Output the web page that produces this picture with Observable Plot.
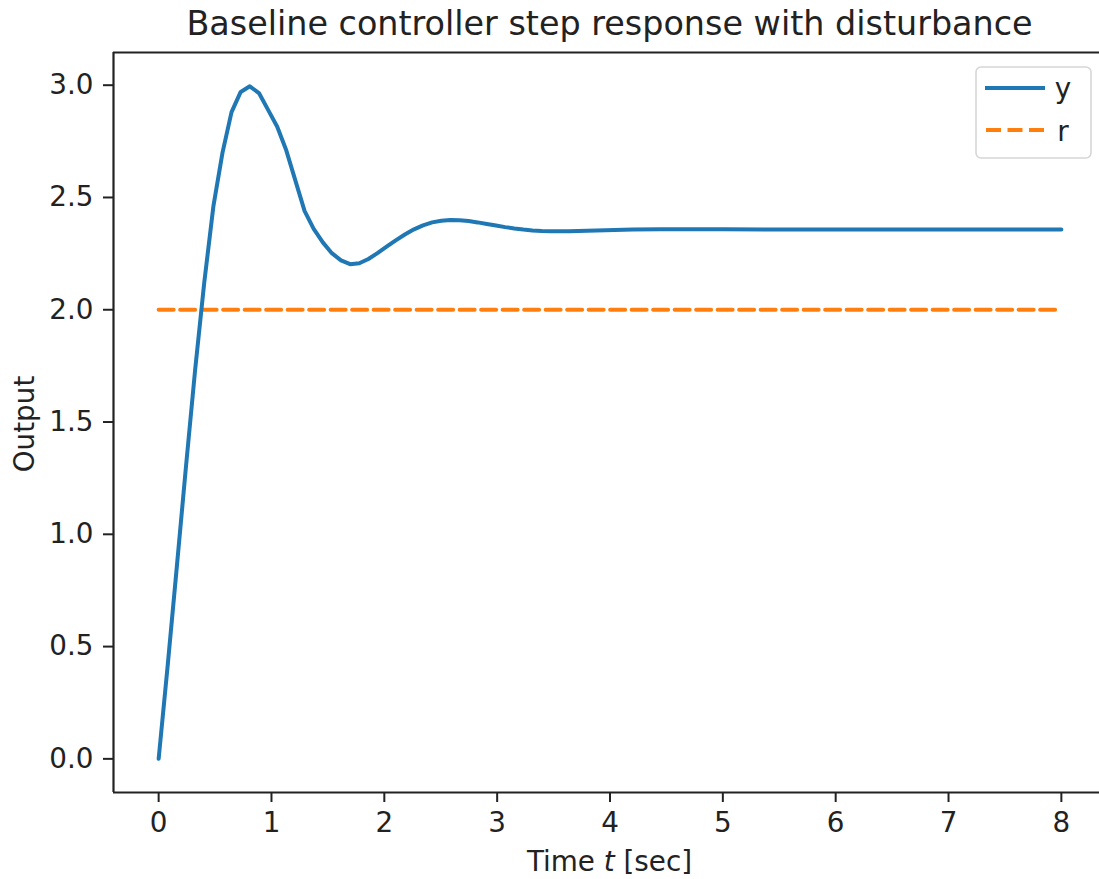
<!DOCTYPE html>
<html>
<head>
<meta charset="utf-8">
<script src="https://cdn.jsdelivr.net/npm/d3@7"></script>
<script src="https://cdn.jsdelivr.net/npm/@observablehq/plot@0.6"></script>
<style>
  html, body { margin: 0; padding: 0; background: #fff; }
  svg { overflow: hidden; }
</style>
</head>
<body>
<div id="chart"></div>
<script>
// time samples (s)
const tValues = [0, 0.081, 0.162, 0.242, 0.323, 0.404, 0.485, 0.566, 0.646, 0.727,
  0.808, 0.889, 0.970, 1.051, 1.131, 1.212, 1.293, 1.374, 1.455, 1.535,
  1.616, 1.697, 1.778, 1.859, 1.939, 2.020, 2.101, 2.182, 2.263, 2.343,
  2.424, 2.505, 2.586, 2.667, 2.747, 2.828, 2.909, 2.990, 3.071, 3.152,
  3.232, 3.313, 3.394, 3.475, 3.556, 3.636, 3.798, 3.960, 4.202, 4.444,
  4.687, 5.010, 5.495, 6.000, 7.000, 8.000];
// output y
const yValues = [0, 0.42, 0.86, 1.30, 1.73, 2.12, 2.46, 2.70, 2.88, 2.97,
  2.995, 2.965, 2.89, 2.815, 2.71, 2.575, 2.44, 2.36, 2.30, 2.252,
  2.22, 2.203, 2.207, 2.226, 2.252, 2.281, 2.309, 2.335, 2.358, 2.376,
  2.389, 2.396, 2.400, 2.399, 2.395, 2.389, 2.382, 2.375, 2.368, 2.362,
  2.357, 2.353, 2.351, 2.350, 2.350, 2.350, 2.352, 2.354, 2.357, 2.358,
  2.358, 2.358, 2.357, 2.357, 2.357, 2.357];
// reference r
const rTimes = [0, 8];
const rValues = [2, 2];
const xTicks = [0, 1, 2, 3, 4, 5, 6, 7, 8];
const yTicks = [0, 0.5, 1.0, 1.5, 2.0, 2.5, 3.0];
const seriesNames = ["y", "r"];
const titleText = "Baseline controller step response with disturbance";

const yData = tValues.map((t, i) => ({t, v: yValues[i]}));
const rData = rTimes.map((t, i) => ({t, v: rValues[i]}));

const FONT = "DejaVu Sans, sans-serif";
const FS = 27.8;
const W = 1099, H = 879;
const mL = 113, mT = 52, mB = 87;
const xDomain = [-0.4, 8.4];
const yDomain = [-0.1498, 3.1456];

const plot = Plot.plot({
  width: W,
  height: H,
  marginLeft: mL,
  marginRight: 0,
  marginTop: mT,
  marginBottom: mB,
  style: {fontFamily: FONT, background: "#fff", color: "#222"},
  x: {domain: xDomain, range: [mL, 1106]},
  y: {domain: yDomain, range: [H - mB, mT]},
  marks: [
    Plot.axisX({ticks: xTicks, tickSize: 10, tickPadding: 10, fontSize: FS, label: null,
      tickFormat: d3.format("d"), stroke: "#222", strokeWidth: 2, fill: "#222"}),
    Plot.axisY({ticks: yTicks, tickSize: 10, tickPadding: 10, fontSize: FS, label: null,
      tickFormat: d3.format(".1f"), stroke: "#222", strokeWidth: 2, fill: "#222"}),
    // spines (left, top, bottom)
    Plot.ruleX([xDomain[0]], {y1: yDomain[0], y2: yDomain[1], stroke: "#222", strokeWidth: 2.2}),
    Plot.ruleY([yDomain[0]], {x1: xDomain[0], x2: xDomain[1], stroke: "#222", strokeWidth: 2.2}),
    Plot.ruleY([yDomain[1]], {x1: xDomain[0], x2: xDomain[1], stroke: "#222", strokeWidth: 2.2}),
    Plot.line(rData, {x: "t", y: "v", stroke: "#ff7f0e", strokeWidth: 4, strokeDasharray: "15,6.5"}),
    Plot.line(yData, {x: "t", y: "v", stroke: "#1f77b4", strokeWidth: 4, curve: "linear"})
  ]
});

document.getElementById("chart").appendChild(plot);
const svg = d3.select(plot);

// title
svg.append("text")
  .attr("x", 609.5).attr("y", 35)
  .attr("text-anchor", "middle")
  .attr("font-family", FONT).attr("font-size", 33.4)
  .attr("fill", "#222")
  .text(titleText);

// x label
const xl = svg.append("text")
  .attr("x", 609.5).attr("y", 871)
  .attr("text-anchor", "middle")
  .attr("font-family", FONT).attr("font-size", FS)
  .attr("fill", "#222");
xl.append("tspan").text("Time ");
xl.append("tspan").attr("font-style", "italic").text("t");
xl.append("tspan").text(" [sec]");

// y label
svg.append("text")
  .attr("transform", "translate(33.5,424) rotate(-90)")
  .attr("text-anchor", "middle")
  .attr("font-family", FONT).attr("font-size", FS)
  .attr("fill", "#222")
  .text("Output");

// legend
const lg = svg.append("g");
lg.append("rect")
  .attr("x", 976).attr("y", 67).attr("width", 115).attr("height", 91)
  .attr("rx", 5).attr("fill", "#fff").attr("fill-opacity", 0.8)
  .attr("stroke", "#d6d6d6").attr("stroke-width", 1.6);
lg.append("line").attr("x1", 985).attr("x2", 1045).attr("y1", 88).attr("y2", 88)
  .attr("stroke", "#1f77b4").attr("stroke-width", 4);
lg.append("line").attr("x1", 986).attr("x2", 1045).attr("y1", 130).attr("y2", 130)
  .attr("stroke", "#ff7f0e").attr("stroke-width", 4).attr("stroke-dasharray", "15,6.5");
lg.append("text").attr("x", 1063).attr("y", 98)
  .attr("font-family", FONT).attr("font-size", FS).attr("fill", "#222").text(seriesNames[0]);
lg.append("text").attr("x", 1063).attr("y", 141)
  .attr("font-family", FONT).attr("font-size", FS).attr("fill", "#222").text(seriesNames[1]);
</script>
</body>
</html>
